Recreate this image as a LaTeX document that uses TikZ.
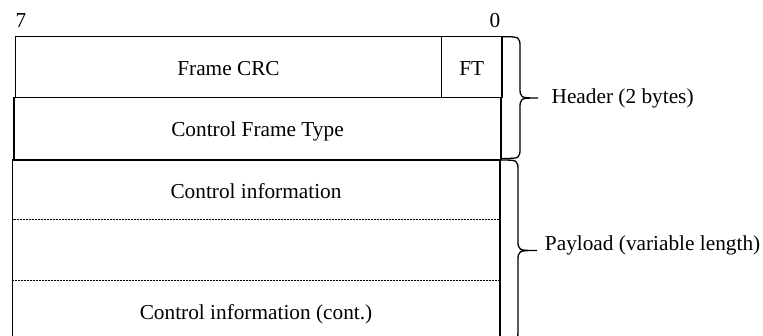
\documentclass[tikz,border=0pt]{standalone}
\usepackage{fontspec}
\setmainfont{Liberation Serif}
\begin{document}
\begin{tikzpicture}[x=1pt,y=-1pt,line width=1.3pt,font=\fontsize{21.3}{25}\selectfont]
\tikzset{
  lbl/.style={anchor=base,inner sep=0pt},
  sidelbl/.style={anchor=base west,inner sep=0pt},
  dotline/.style={dash pattern=on 2pt off 1pt,line width=1.3pt},
  bracestyle/.style={line width=1.3pt}
}
\useasboundingbox (0,0) rectangle (763,336);
% boxes
\draw (15.3,36.7) rectangle (502,97.3);
\draw (441.7,36.7) -- (441.7,97.3);
\draw (14,97.3) rectangle (501,159.3);
\draw (12.7,160) rectangle (500,346);
\draw[dotline] (12.7,219.3) rectangle (499.5,280.3);
% texts
\node[anchor=base west,inner sep=0pt] (b7) at (15,28) {7};
\node[anchor=base east,inner sep=0pt] (b0) at (501,28) {0};
\node[lbl] (crc) at (228.5,76) {Frame CRC};
\node[lbl] (ft) at (471.8,76) {FT};
\node[lbl] (cft) at (257.5,137) {Control Frame Type};
\node[lbl] (ci) at (256,198.5) {Control information};
\node[lbl] (cic) at (256,319.5) {Control information (cont.)};
\node[sidelbl] (hdr) at (551,104) {Header (2 bytes)};
\node[sidelbl] (pay) at (544.3,251) {Payload (variable length)};
% braces
\draw[bracestyle] (502,36.7) .. controls (520,36.7) .. (520,48)
  -- (520,87) .. controls (520,98) .. (538,98)
  .. controls (520,98) .. (520,109)
  -- (520,147.5) .. controls (520,158.5) .. (502,158.5);
\draw[bracestyle] (500,160) .. controls (518,160) .. (518,171)
  -- (518,239.5) .. controls (518,250.5) .. (537,250.5)
  .. controls (518,250.5) .. (518,261.5)
  -- (518,330) .. controls (518,341) .. (500,341);
\end{tikzpicture}
\end{document}
